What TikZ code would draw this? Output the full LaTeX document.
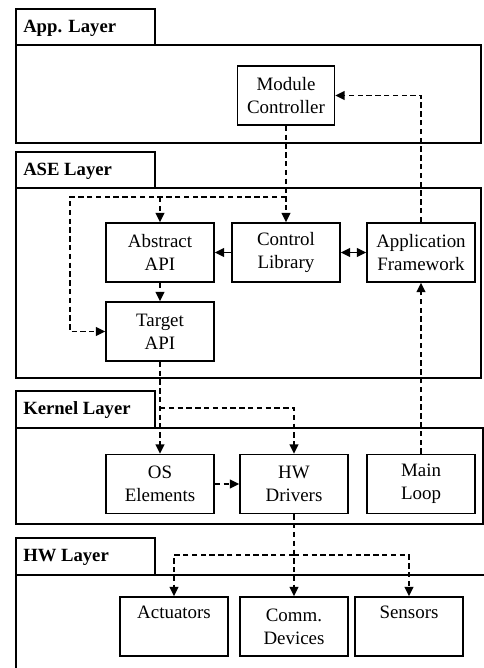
\documentclass[tikz,border=0pt]{standalone}
\usepackage{fontspec}
\setmainfont{Liberation Serif}
\usetikzlibrary{arrows.meta}
\begin{document}
\begin{tikzpicture}[x=0.75pt,y=-0.75pt,
  layerbox/.style={draw=black,line width=1.3pt},
  tabtext/.style={anchor=west,inner sep=0pt,font=\fontsize{14}{16}\selectfont\bfseries},
  comp/.style={draw=black,line width=1.2pt,align=center,inner sep=0pt,
    font=\fontsize{14.2}{17}\selectfont,minimum height=44.25pt},
  dline/.style={line width=1.25pt,dash pattern=on 4pt off 2.6pt,-{Triangle[length=7pt,width=6.5pt]}},
  sline/.style={line width=1.25pt,-{Triangle[length=7pt,width=6.5pt]}},
  dbl/.style={line width=1.25pt,{Triangle[length=7pt,width=6.5pt]}-{Triangle[length=7pt,width=6.5pt]}}
]
\useasboundingbox (0,0) rectangle (484,668);
\fill[white] (0,0) rectangle (484,668);
\begin{scope}
\clip (0,0) rectangle (484,668);
% layers
\draw[layerbox] (16,9) rectangle (155,45);
\draw[layerbox] (16,45) rectangle (481,143);
\node[tabtext] (tApp) at (23,28) {App. Layer};
\draw[layerbox] (16,152) rectangle (155,188);
\draw[layerbox] (16,188) rectangle (481,378);
\node[tabtext] (tAse) at (23,171) {ASE Layer};
\draw[layerbox] (16,391) rectangle (155,428);
\draw[layerbox] (16,428) rectangle (483,524);
\node[tabtext] (tKer) at (23,410) {Kernel Layer};
\draw[layerbox] (16,538) rectangle (155,575);
\draw[layerbox] (16,575) rectangle (495,690);
\node[tabtext] (tHw) at (23,557) {HW Layer};
\end{scope}
% components
\node[comp,minimum width=72.75pt] (mc) at (286,95.5) {Module\\Controller};
\node[comp,minimum width=81pt] (abs) at (160,252.5) {Abstract\\API};
\node[comp,minimum width=81pt] (ctl) at (286,252.5) {Control\\Library};
\node[comp,minimum width=81pt] (app) at (421,252.5) {Application\\Framework};
\node[comp,minimum width=81pt] (tgt) at (160,331.5) {Target\\API};
\node[comp,minimum width=81pt] (os) at (160,484) {OS\\Elements};
\node[comp,minimum width=81pt] (hwd) at (294,484) {HW\\Drivers};
\node[comp,minimum width=81pt] (ml) at (421,484) {Main\\Loop};
\node[comp,minimum width=81pt] (act) at (174,626.5) {Actuators\\\strut};
\node[comp,minimum width=81pt] (com) at (294,626.5) {Comm.\\Devices};
\node[comp,minimum width=81pt] (sen) at (409,626.5) {Sensors\\\strut};
% junctions
\coordinate (ja) at (70,197);
\coordinate (jb) at (160,408);
\coordinate (jc) at (294,555);
% connectors
\draw[dline] (mc.south) -- (ctl.north);
\draw[dline] (mc.south |- ja) -- (ja) |- (tgt.west);
\draw[dline] (abs.north |- ja) -- (abs.north);
\draw[sline] (ctl.west) -- (abs.east);
\draw[dbl] (ctl.east) -- (app.west);
\draw[dline] (app.north) |- (mc.east);
\draw[dline] (ml.north) -- (app.south);
\draw[dline] (abs.south) -- (tgt.north);
\draw[dline] (tgt.south) -- (os.north);
\draw[dline] (jb) -| (hwd.north);
\draw[dline] (os.east) -- (hwd.west);
\draw[dline] (hwd.south) -- (com.north);
\draw[dline] (jc) -| (act.north);
\draw[dline] (jc) -| (sen.north);
\end{tikzpicture}
\end{document}
